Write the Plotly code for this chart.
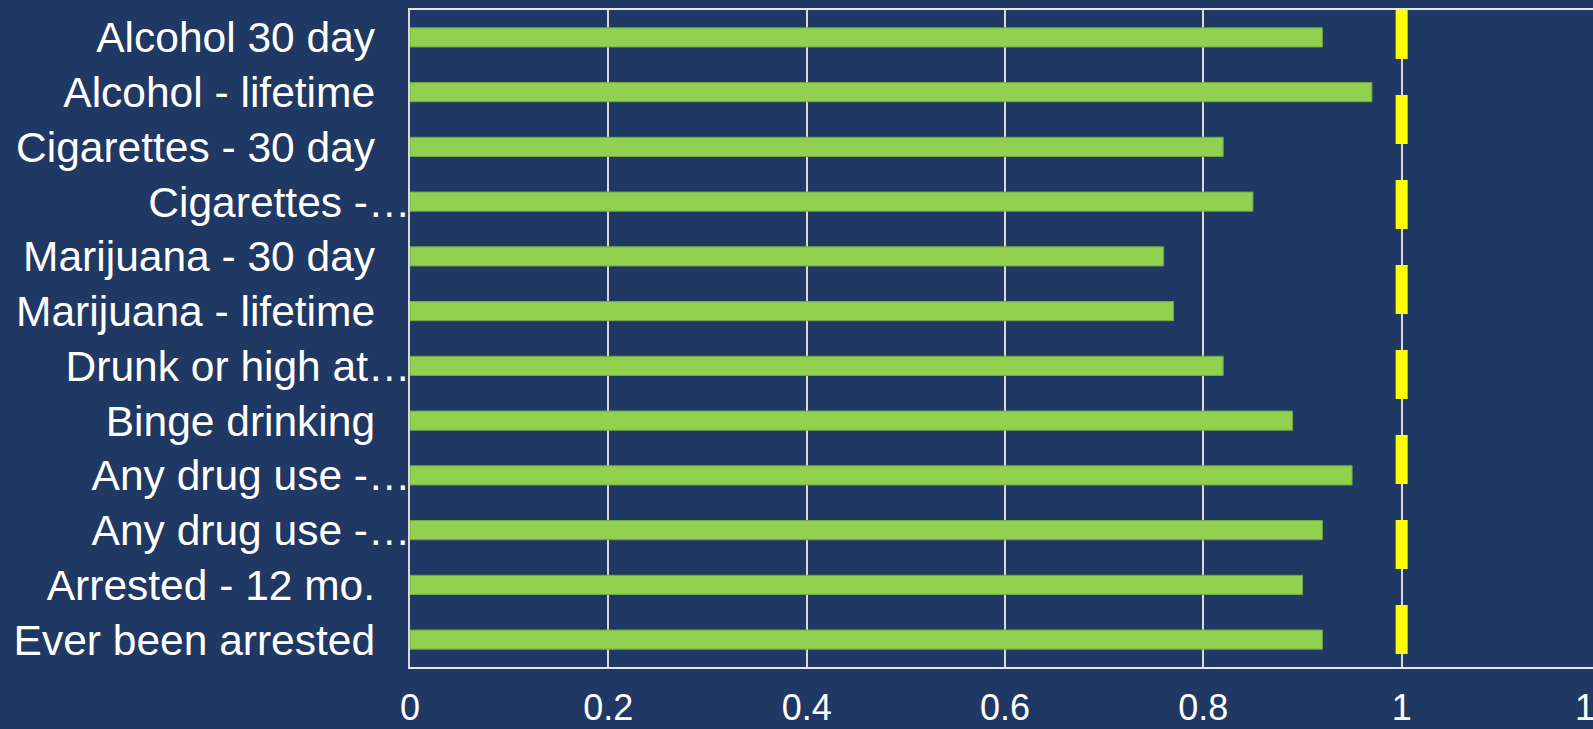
import plotly.graph_objects as go

categories = [
    "Alcohol 30 day",
    "Alcohol - lifetime",
    "Cigarettes - 30 day",
    "Cigarettes -\u2026",
    "Marijuana - 30 day",
    "Marijuana - lifetime",
    "Drunk or high at\u2026",
    "Binge drinking",
    "Any drug use -\u2026",
    "Any drug use -\u2026 ",
    "Arrested - 12 mo.",
    "Ever been arrested",
]
truncated = [False, False, False, True, False, False, True, False, True, True, False, False]
values = [0.92, 0.97, 0.82, 0.85, 0.76, 0.77, 0.82, 0.89, 0.95, 0.92, 0.90, 0.92]
x_ticks = [0, 0.2, 0.4, 0.6, 0.8, 1.0, 1.2]
x_ticktext = ["0", "0.2", "0.4", "0.6", "0.8", "1", "1.2"]
reference_value = 1.0

BG = "#1F3864"
FONT = "Liberation Sans, Arial, sans-serif"

ticktext = [c.rstrip() if t else c + "\u00a0\u00a0\u00a0" for c, t in zip(categories, truncated)]

fig = go.Figure()
fig.add_trace(go.Bar(
    y=categories,
    x=values,
    orientation="h",
    marker=dict(color="#92D050", line=dict(color="#72A843", width=1)),
    showlegend=False,
))

fig.add_shape(
    type="line", xref="x", yref="paper",
    x0=reference_value, x1=reference_value, y0=1, y1=0,
    line=dict(color="#FFFF00", width=12, dash="49px,36px"),
    layer="above",
)

fig.update_layout(
    width=1610, height=729,
    margin=dict(l=410, r=10, t=10, b=62),
    paper_bgcolor=BG, plot_bgcolor=BG,
    bargap=0.65,
    font=dict(family=FONT, color="white"),
    xaxis=dict(
        range=[0, 1.2],
        tickvals=x_ticks, ticktext=x_ticktext,
        tickfont=dict(size=36, color="white", family=FONT),
        showgrid=True, gridcolor="#D9D9D9", gridwidth=2,
        showline=True, linecolor="#E6E6E6", linewidth=2, mirror=True,
        zeroline=False, ticks="", ticklabelstandoff=8,
        ticklabeloverflow="allow", automargin=False,
    ),
    yaxis=dict(
        autorange="reversed",
        tickvals=categories, ticktext=ticktext,
        tickfont=dict(size=42.5, color="white", family=FONT),
        showgrid=False,
        showline=True, linecolor="#D9D9D9", linewidth=2,
        zeroline=False, ticks="", ticklabelstandoff=-11,
        automargin=False,
    ),
)

fig.write_html("out.html", post_script="document.body.style.overflow='hidden';document.body.style.margin='0';")
